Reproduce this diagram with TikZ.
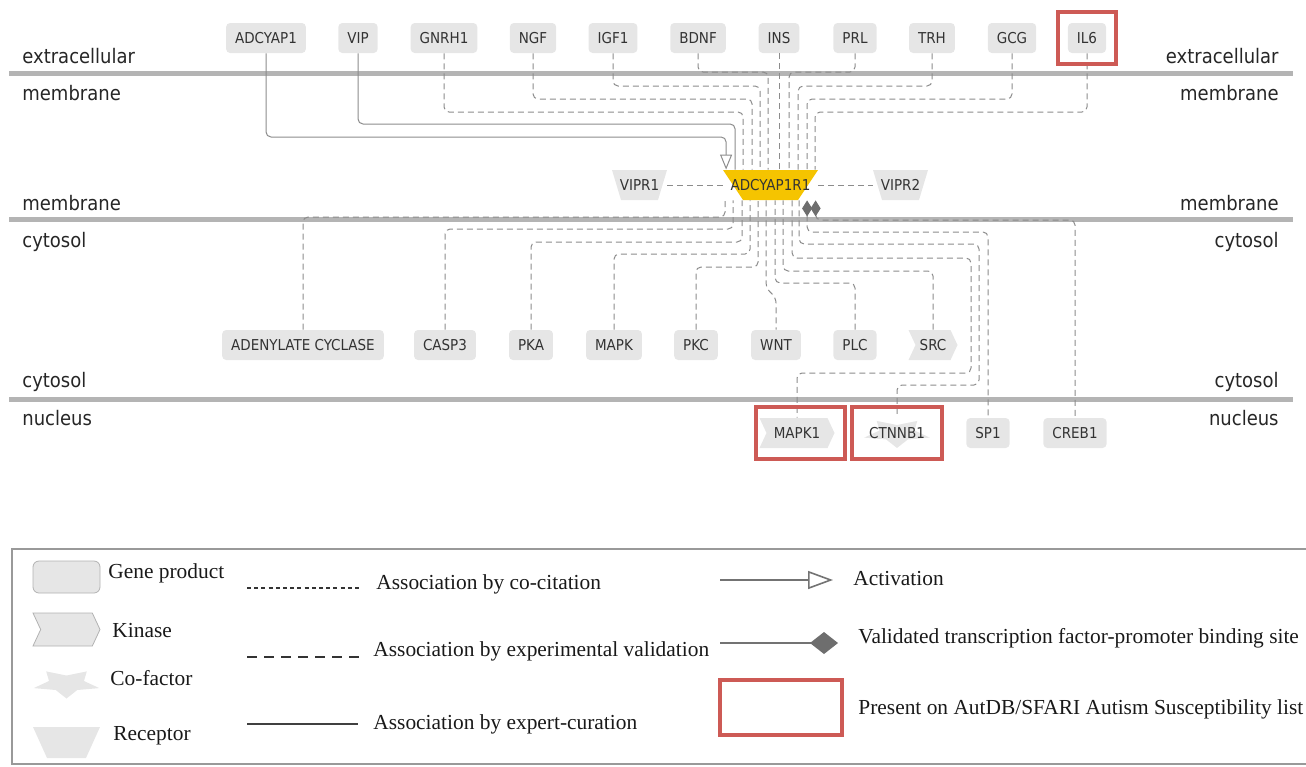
\documentclass[tikz,border=0pt]{standalone}
\usepackage{fontspec}
\setmainfont{DejaVu Sans Condensed}
\newfontfamily\legendfont{Liberation Serif}
\usetikzlibrary{arrows.meta}
\usetikzlibrary{calc}
\usetikzlibrary{fit}
\usetikzlibrary{shapes.symbols}

\definecolor{genefill}{HTML}{E6E6E6}
\definecolor{recgold}{HTML}{F5C400}
\definecolor{bargray}{HTML}{B4B4B4}
\definecolor{linkgray}{HTML}{8C8C8C}
\definecolor{textgray}{HTML}{333333}
\definecolor{sfarired}{HTML}{CD5A55}
\definecolor{tfgray}{HTML}{6E6E6E}

\newcommand\genefont{\fontsize{7.5}{9}\selectfont}
\newcommand\regionfont{\fontsize{10}{12}\selectfont}

\tikzset{
  bar/.style={draw=bargray, line width=2.5pt},
  region/.style={inner sep=0pt, text=black!85, font=\regionfont},
  gene/.style={fill=genefill, rounded corners=2pt, minimum height=15pt, inner xsep=4.5pt, inner ysep=0pt, text=textgray, font=\genefont},
  kinase/.style={signal, signal from=west, signal to=east, signal pointer angle=130, fill=genefill, minimum height=15pt, inner xsep=1pt, inner ysep=0pt, text=textgray, font=\genefont},
  receptor/.style 2 args={minimum height=15pt, inner sep=0pt, text=textgray, font=\genefont,
    path picture={\fill[#1] (path picture bounding box.north west) -- (path picture bounding box.north east) -- ([xshift=-#2]path picture bounding box.south east) -- ([xshift=#2]path picture bounding box.south west) -- cycle;}},
  cofactor/.style={minimum height=15pt, inner sep=0pt, text=textgray, font=\genefont,
    path picture={\fill[genefill] (path picture bounding box.center) +(0pt,-7.5pt) -- +(5.4pt,-3.25pt) -- +(16.4pt,-2.3pt) -- +(8.75pt,1.25pt) -- +(10.15pt,6.05pt) -- +(0pt,4pt) -- +(-10.15pt,6.05pt) -- +(-8.75pt,1.25pt) -- +(-16.4pt,-2.3pt) -- +(-5.4pt,-3.25pt) -- cycle;}},
  expval/.style={draw=linkgray, line width=0.5pt, dash pattern=on 3pt off 2pt, rounded corners=2.5pt},
  curated/.style={draw=linkgray, line width=0.5pt, rounded corners=2.5pt},
  tfbs/.style={arrows={Diamond[length=8pt,width=5pt,color=tfgray]-}},
  sfari/.style={draw=sfarired, line width=2pt, inner xsep=5pt, inner ysep=5.5pt},
  legtext/.style={inner sep=0pt, text=black!90, font=\legendfont\fontsize{10.7}{13}\selectfont},
}

\begin{document}
\begin{tikzpicture}[x=0.5pt, y=-0.5pt]
  \useasboundingbox (0,0) rectangle (1306,766);
  \clip (0,0) rectangle (1306,766);

  % compartment bars
  \foreach \y in {73,219,399}
    \draw[bar] (9,\y) -- (1293,\y);

  % compartment labels
  \node[region, anchor=base west] (lextra) at (22,63) {extracellular};
  \node[region, anchor=base east] (rextra) at (1279,63) {extracellular};
  \node[region, anchor=base west] (lmem1) at (22,100) {membrane};
  \node[region, anchor=base east] (rmem1) at (1279,100) {membrane};
  \node[region, anchor=base west] (lmem2) at (22,210) {membrane};
  \node[region, anchor=base east] (rmem2) at (1279,210) {membrane};
  \node[region, anchor=base west] (lcyt1) at (22,247) {cytosol};
  \node[region, anchor=base east] (rcyt1) at (1279,247) {cytosol};
  \node[region, anchor=base west] (lcyt2) at (22,387) {cytosol};
  \node[region, anchor=base east] (rcyt2) at (1279,387) {cytosol};
  \node[region, anchor=base west] (lnuc) at (22,425) {nucleus};
  \node[region, anchor=base east] (rnuc) at (1279,425) {nucleus};

  % extracellular ligands
  \node[gene] (adcyap1) at (266,38) {ADCYAP1};
  \node[gene] (vip) at (358,38) {VIP};
  \node[gene] (gnrh1) at (444,38) {GNRH1};
  \node[gene] (ngf) at (533,38) {NGF};
  \node[gene] (igf1) at (613,38) {IGF1};
  \node[gene] (bdnf) at (698,38) {BDNF};
  \node[gene] (ins) at (779,38) {INS};
  \node[gene] (prl) at (855,38) {PRL};
  \node[gene] (trh) at (932,38) {TRH};
  \node[gene] (gcg) at (1012,38) {GCG};
  \node[gene] (il6) at (1087,38) {IL6};

  % receptors
  \node[receptor={recgold}{10pt}, minimum width=47.5pt] (adcyap1r1) at (770.5,185) {ADCYAP1R1};
  \node[receptor={genefill}{4.5pt}, minimum width=27.5pt] (vipr1) at (639.5,185) {VIPR1};
  \node[receptor={genefill}{4.5pt}, minimum width=27.5pt] (vipr2) at (900.5,185) {VIPR2};

  % cytosol
  \node[gene] (adenylate) at (303,345) {ADENYLATE CYCLASE};
  \node[gene] (casp3) at (445,345) {CASP3};
  \node[gene] (pka) at (531,345) {PKA};
  \node[gene] (mapk) at (614,345) {MAPK};
  \node[gene] (pkc) at (696,345) {PKC};
  \node[gene] (wnt) at (776,345) {WNT};
  \node[gene] (plc) at (855,345) {PLC};
  \node[kinase, minimum width=24.5pt] (src) at (933,345) {SRC};

  % nucleus
  \node[kinase, minimum width=37.5pt] (mapk1) at (797,433) {MAPK1};
  \node[cofactor, minimum width=35pt] (ctnnb1) at (897,433) {CTNNB1};
  \node[gene] (sp1) at (988,433) {SP1};
  \node[gene] (creb1) at (1075,433) {CREB1};

  % ligands -> ADCYAP1R1
  \coordinate (ra) at ($(adcyap1r1.north west)+(3.5,0)$);
  \draw[curated, -{Triangle[open,length=7.5pt,width=6pt]}] (adcyap1.south) |- (ra |- 0,137) -- (ra);
  \coordinate (rv) at ($(adcyap1r1.north west)+(12.5,0)$);
  \draw[curated] (vip.south) |- (rv |- 0,124) -- (rv);
  \foreach \src/\dx/\ty in {gnrh1/20.5/112, ngf/29.5/99, igf1/37.5/86, bdnf/45.5/72, prl/66.5/72, trh/75.5/86, gcg/84.5/99, il6/92.5/112}{
    \coordinate (rin) at ($(adcyap1r1.north west)+(\dx,0)$);
    \draw[expval] (\src.south) |- (rin |- 0,\ty) -- (rin);
  }
  \draw[expval] (ins.south) -- (ins.south |- adcyap1r1.north);

  \draw[expval] (vipr1) -- (adcyap1r1);
  \draw[expval] (adcyap1r1) -- (vipr2);

  % ADCYAP1R1 -> cytosol
  \foreach \dst/\dx/\ty in {adenylate/2.5/217, casp3/10.5/229, pka/19.5/242, mapk/27.5/254, pkc/35.5/267, plc/52.5/283, src/60.5/271}{
    \coordinate (rout) at ($(adcyap1r1.south west)+(\dx,0)$);
    \draw[expval] (\dst.north) |- (rout |- 0,\ty) -- (rout);
  }
  \coordinate (rw) at ($(adcyap1r1.south west)+(43.5,0)$);
  \draw[expval] (rw) -- (rw |- 0,288) -- (wnt.north |- 0,298) -- (wnt.north);

  % ADCYAP1R1 -> nucleus
  \coordinate (rm) at ($(adcyap1r1.south west)+(69.5,0)$);
  \draw[expval] (rm) |- (971,258) |- (mapk1.north |- 0,373) -- (mapk1.north);
  \coordinate (rc) at ($(adcyap1r1.south west)+(76.5,0)$);
  \draw[expval] (rc) |- (979,244) |- (ctnnb1.north |- 0,385) -- (ctnnb1.north);
  \coordinate (rs) at ($(adcyap1r1.south west)+(84.5,0)$);
  \draw[expval, tfbs] (rs) |- (sp1.north |- 0,232) -- (sp1.north);
  \coordinate (rcr) at ($(adcyap1r1.south west)+(93,0)$);
  \draw[expval, tfbs] (rcr) |- (creb1.north |- 0,220) -- (creb1.north);

  % AutDB/SFARI genes
  \node[sfari, fit=(il6)] (il6box) {};
  \node[sfari, fit=(mapk1)] (mapk1box) {};
  \node[sfari, fit=(ctnnb1)] (ctnnb1box) {};

  % legend
  \draw[draw=black!40, line width=0.8pt] (12,549) rectangle (1330,764);
  \node[gene, draw=black!30, rounded corners=3pt, minimum width=33.5pt, minimum height=16pt] (lgene) at (66.5,577) {};
  \node[kinase, draw=black!30, minimum width=33.5pt, minimum height=16.5pt] (lkinase) at (66.5,629.5) {};
  \node[cofactor, minimum width=34pt, minimum height=16pt] (lcofactor) at (66.5,683.5) {};
  \node[receptor={genefill}{7pt}, minimum width=33.5pt, minimum height=15.5pt] (lreceptor) at (66.5,742.5) {};
  \node[legtext, anchor=base west] (tgene) at (108,578) {Gene product};
  \node[legtext, anchor=base west] (tkinase) at (112,637) {Kinase};
  \node[legtext, anchor=base west] (tcofactor) at (110,685) {Co-factor};
  \node[legtext, anchor=base west] (treceptor) at (113,740) {Receptor};

  \coordinate (cc1) at (247,588);
  \coordinate (cc2) at (360,588);
  \draw[draw=black!80, line width=1.2pt, dash pattern=on 2pt off 1.6pt] (cc1) -- (cc2);
  \node[legtext, anchor=base west] (tcocit) at (376,589) {Association by co-citation};
  \coordinate (ev1) at (247,657);
  \coordinate (ev2) at (360,657);
  \draw[draw=black!80, line width=1.2pt, dash pattern=on 5pt off 3.5pt] (ev1) -- (ev2);
  \node[legtext, anchor=base west] (texpval) at (373,656) {Association by experimental validation};
  \coordinate (ec1) at (247,724);
  \coordinate (ec2) at (358,724);
  \draw[draw=black!75, line width=0.6pt] (ec1) -- (ec2);
  \node[legtext, anchor=base west] (tcurated) at (373,729) {Association by expert-curation};

  \coordinate (ac1) at (720,580);
  \coordinate (ac2) at (833,580);
  \draw[draw=black!55, line width=0.8pt, -{Triangle[open,length=12.5pt,width=9pt]}] (ac1) -- (ac2);
  \node[legtext, anchor=base west] (tactiv) at (853,585) {Activation};
  \coordinate (tf1) at (720,643);
  \coordinate (tf2) at (838,643);
  \draw[draw=black!55, line width=0.8pt, -{Diamond[length=14pt,width=11pt,color=tfgray]}] (tf1) -- (tf2);
  \node[legtext, anchor=base west] (ttfbs) at (858,643) {Validated transcription factor-promoter binding site};
  \draw[draw=sfarired, line width=2pt] (720,680) rectangle (842,735);
  \node[legtext, anchor=base west] (tsfari) at (858,714) {Present on AutDB/SFARI Autism Susceptibility list};
\end{tikzpicture}
\end{document}
